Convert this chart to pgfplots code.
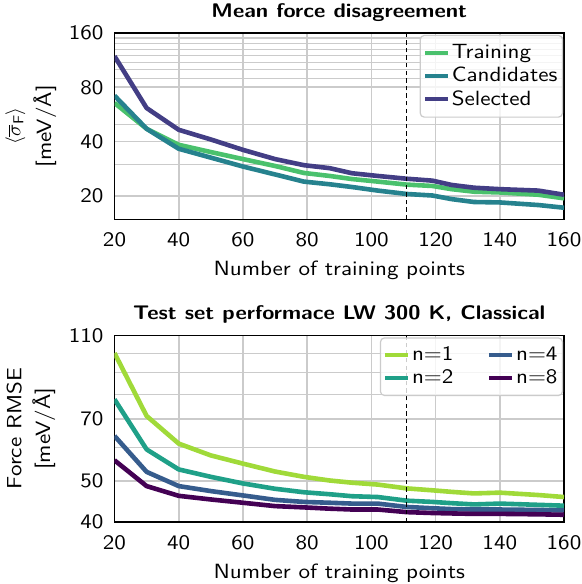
\documentclass[border=0pt]{standalone}
\usepackage{fontspec}
\setsansfont{lmsans10-regular.otf}[BoldFont=lmsans10-bold.otf, FakeStretch=1.12]
\usepackage{pgfplots}
\pgfplotsset{compat=1.18}
\definecolor{ctrain}{HTML}{4AC16D}
\definecolor{ccand}{HTML}{26828E}
\definecolor{csel}{HTML}{433E85}
\definecolor{cn1}{HTML}{A0DA39}
\definecolor{cn2}{HTML}{1FA088}
\definecolor{cn4}{HTML}{365C8D}
\definecolor{cn8}{HTML}{440154}
\definecolor{gridc}{HTML}{CBCBCB}
\newcommand{\fs}{\fontsize{10.3}{12.4}\selectfont\sffamily}
\newcommand{\ft}{\fontsize{9.85}{12}\selectfont\sffamily\bfseries}
\pgfplotsset{
 mystyle/.style={
  scale only axis, width=224.75pt, height=93.25pt,
  xmin=20, xmax=160, xtick={20,40,...,160},
  font=\fs,
  /pgf/number format/assume math mode=true,
  major tick length=0pt, minor tick length=0pt,
  grid=both,
  major grid style={gridc, line width=0.85pt},
  minor grid style={gridc, line width=0.55pt},
  axis line style={line width=0.75pt},
  xlabel={Number of training points},
  ylabel style={align=center, at={(axis description cs:-0.186,0.5)}, anchor=center},
  yticklabel style={xshift=-2pt},
  xticklabel style={yshift=-3pt},
  legend cell align=left,
  legend style={draw=gridc, rounded corners=2pt, line width=0.6pt, fill=white, fill opacity=0.8, text opacity=1, font=\fs, at={(0.998,0.99)}, anchor=north east, inner xsep=1.5pt, inner ysep=2.5pt, row sep=-1.2pt, nodes={inner xsep=1pt}},
  every axis plot/.append style={line width=2.3pt, line join=round},
  legend image code/.code={\draw[##1, line width=2pt] (0pt,0pt) -- (11.3pt,0pt);},
  title style={font=\ft, anchor=base, yshift=1.9pt},
 }
}
\begin{document}
\begin{tikzpicture}
\path[use as bounding box] (0,0) rectangle (291pt,292pt);
\begin{axis}[mystyle, ymode=log, at={(57.25pt,182.25pt)}, anchor=south west,
  ymin=14.8, ymax=160,
  ytick={20,40,80,160}, yticklabels={20,40,80,160},
  minor ytick={30,50,90,100,110,120,130,140,150},
  title={Mean force disagreement},
  ylabel={$\langle\overline{\sigma}_{\mathsf{F}}\rangle$\\[3pt]{}[meV/\AA]},
  xlabel style={at={(axis description cs:0.5,0)}, anchor=base, yshift=-27.8pt},
]
\addplot[ctrain] coordinates {(20,65.5)(30,47.1)(40,38.4)(50,35.0)(60,32.0)(70,29.3)(79,26.8)(87,25.8)(94,24.8)(102,24.0)(111,23.1)(119,22.7)(125,21.8)(132,21.1)(140,20.9)(152,20.3)(160,19.4)};
\addlegendentry{Training}
\addplot[ccand] coordinates {(20,71.9)(30,47.1)(40,36.5)(50,32.6)(60,29.1)(70,26.3)(79,24.0)(87,23.2)(94,22.4)(102,21.4)(111,20.5)(119,20.1)(125,19.2)(132,18.5)(140,18.4)(152,17.8)(160,17.2)};
\addlegendentry{Candidates}
\addplot[csel] coordinates {(20,119)(30,61.4)(40,46.5)(50,41.1)(60,36.0)(70,32.0)(79,29.6)(87,28.5)(94,26.7)(102,25.8)(111,24.9)(119,24.3)(125,23.0)(132,22.2)(140,21.8)(152,21.4)(160,20.3)};
\addlegendentry{Selected}
\addplot[black, line width=0.6pt, dash pattern=on 2.2pt off 1.6pt, forget plot] coordinates {(111,14.8)(111,160)};
\end{axis}
\begin{axis}[mystyle, ymode=log, at={(57.25pt,31pt)}, anchor=south west,
  ymin=40, ymax=110,
  ytick={40,50,70,110}, yticklabels={40,50,70,110},
  minor ytick={60,80,90,100},
  title={Test set performace LW 300 K, Classical},
  ylabel={Force RMSE\\[2pt]{}[meV/\AA]},
  xlabel style={at={(axis description cs:0.5,0)}, anchor=base, yshift=-28.3pt},
  legend columns=2,
  legend style={/tikz/every even column/.append style={column sep=16pt}},
]
\addplot[cn1] coordinates {(20,100)(30,71.1)(40,61.2)(50,57.4)(60,54.9)(70,52.6)(79,51.1)(87,50.1)(94,49.5)(102,49.0)(111,48.0)(119,47.5)(125,47.1)(132,46.7)(140,46.9)(152,46.3)(160,45.8)};
\addlegendentry{n=1}
\addplot[cn4] coordinates {(20,63.8)(30,52.5)(40,48.6)(50,47.3)(60,46.2)(70,45.1)(79,44.6)(87,44.4)(94,44.2)(102,44.2)(111,43.4)(119,43.1)(125,42.9)(132,42.8)(140,42.8)(152,42.7)(160,42.6)};
\addlegendentry{n=4}
\addplot[cn2] coordinates {(20,77.8)(30,59.3)(40,53.2)(50,51.1)(60,49.3)(70,47.9)(79,47.0)(87,46.5)(94,46.0)(102,45.8)(111,44.9)(119,44.6)(125,44.3)(132,44.0)(140,44.2)(152,43.9)(160,43.7)};
\addlegendentry{n=2}
\addplot[cn8] coordinates {(20,55.9)(30,48.6)(40,46.1)(50,45.2)(60,44.4)(70,43.6)(79,43.3)(87,43.0)(94,42.8)(102,42.8)(111,42.2)(119,42.0)(125,41.9)(132,41.8)(140,41.8)(152,41.7)(160,41.6)};
\addlegendentry{n=8}
\addplot[black, line width=0.6pt, dash pattern=on 2.2pt off 1.6pt, forget plot] coordinates {(111,40)(111,110)};
\end{axis}
\end{tikzpicture}
\end{document}
